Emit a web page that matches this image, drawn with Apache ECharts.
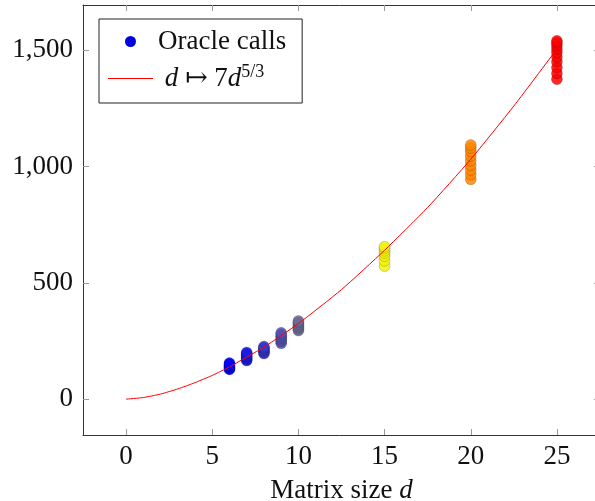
<!DOCTYPE html>
<html>
<head>
<meta charset="utf-8">
<script src="https://cdn.jsdelivr.net/npm/echarts@6/dist/echarts.min.js"></script>
<style>html,body{margin:0;padding:0;background:#fff}#c{width:595px;height:501px}</style>
</head>
<body>
<div id="c"></div>
<script>
const matrixSizes = [6, 7, 8, 9, 10, 15, 20, 25];
const calls6  = [128, 132, 136, 140, 143, 147, 151, 155];
const calls7  = [166, 171, 176, 181, 186, 191, 196, 201];
const calls8  = [196, 201, 206, 211, 216, 221, 226];
const calls9  = [240, 248, 256, 263, 270, 278, 285];
const calls10 = [295, 302, 309, 316, 323, 330, 336];
const calls15 = [572, 595, 615, 628, 638, 648, 655];
const calls20 = [945, 965, 985, 1005, 1025, 1045, 1065, 1080, 1092];
const calls25 = [1375, 1400, 1425, 1450, 1470, 1490, 1505, 1520, 1532, 1540];
const oracleCalls = [calls6, calls7, calls8, calls9, calls10, calls15, calls20, calls25];

// Reference curve d -> 7 d^(5/3)
const curveD      = [0, 1, 2, 3, 4, 5, 6, 8, 10, 12.5, 15, 17.5, 20, 22.5, 25];
const curveValues = [0, 7, 22, 44, 71, 102, 139, 224, 325, 471, 640, 824, 1031, 1260, 1505];

const xTicks = [0, 5, 10, 15, 20, 25];
const yTicks = [0, 500, 1000, 1500];

const scatterData = [];
matrixSizes.forEach((d, i) => oracleCalls[i].forEach(v => scatterData.push([d, v])));
const curveData = curveD.map((d, i) => [d, curveValues[i]]);

const FONT = 'Liberation Serif, DejaVu Serif, serif';
const FS = 27;

const chart = echarts.init(document.getElementById('c'), null, {renderer: 'canvas'});
const tickStyle = {lineStyle: {color: '#9a9a9a', width: 1}};
const axisLine = {show: true, onZero: false, lineStyle: {color: '#333', width: 1}};

chart.setOption({
  animation: false,
  backgroundColor: '#fff',
  grid: {left: 83, top: 5, width: 517, height: 430, containLabel: false, outerBoundsMode: 'none'},
  xAxis: [{
    type: 'value', min: -2.5, max: 27.5, position: 'bottom',
    axisLine: axisLine, splitLine: {show: false},
    axisTick: Object.assign({inside: true, length: 6, customValues: xTicks}, tickStyle),
    axisLabel: {customValues: xTicks, margin: 8, color: '#111', fontFamily: FONT, fontSize: FS},
    name: 'Matrix size {i|d}', nameLocation: 'middle', nameGap: 42,
    nameTextStyle: {color: '#111', fontFamily: FONT, fontSize: FS,
      rich: {i: {fontStyle: 'italic', fontFamily: FONT, fontSize: FS, color: '#111'}}}
  }, {
    type: 'value', min: -2.5, max: 27.5, position: 'top',
    axisLine: axisLine, splitLine: {show: false},
    axisTick: Object.assign({inside: true, length: 6, customValues: xTicks}, tickStyle),
    axisLabel: {show: false}
  }],
  yAxis: [{
    type: 'value', min: -154, max: 1694, position: 'left',
    axisLine: axisLine, splitLine: {show: false},
    axisTick: Object.assign({inside: true, length: 6, customValues: yTicks}, tickStyle),
    axisLabel: {customValues: yTicks, margin: 10, color: '#111', fontFamily: FONT, fontSize: FS,
      formatter: v => v.toLocaleString('en-US')}
  }, {
    type: 'value', min: -154, max: 1694, position: 'right',
    axisLine: axisLine, splitLine: {show: false},
    axisTick: Object.assign({inside: true, length: 6, customValues: yTicks}, tickStyle),
    axisLabel: {show: false}
  }],
  visualMap: {
    show: false, type: 'continuous', dimension: 0, min: 6, max: 25, seriesIndex: 0,
    inRange: {color: ['#0000ff', '#ffff00', '#ff0000']}
  },
  legend: {
    left: 99, top: 19, orient: 'vertical',
    padding: [9, 16, 9, 9], itemGap: 8,
    itemWidth: 45, itemHeight: 11,
    borderColor: '#222', borderWidth: 1, borderRadius: 0,
    backgroundColor: '#fff', symbolKeepAspect: true,
    textStyle: {fontFamily: FONT, fontSize: FS, color: '#111', lineHeight: 27,
      rich: {
        i: {fontStyle: 'italic', fontFamily: FONT, fontSize: FS, color: '#111', lineHeight: 27},
        n: {fontFamily: FONT, fontSize: FS, color: '#111', lineHeight: 27},
        s: {fontFamily: FONT, fontSize: 18, color: '#111', lineHeight: 27, padding: [0, 0, 13, 0]}
      }},
    data: [
      {name: 'Oracle calls', icon: 'circle', itemStyle: {color: '#0000d8', opacity: 1, borderWidth: 0}},
      {name: 'curve', icon: 'path://M0,0 L45,0 L45,1.2 L0,1.2 Z', itemStyle: {color: '#ff0000', borderWidth: 0}}
    ],
    formatter: name => name === 'curve' ? '{i| d}{n| ↦ 7}{i|d}{s|5/3}' : name
  },
  series: [{
    name: 'Oracle calls', type: 'scatter', symbol: 'circle', symbolSize: 11,
    xAxisIndex: 0, yAxisIndex: 0, z: 2,
    itemStyle: {color: '#0000e0', opacity: 0.85, borderColor: 'rgba(0,0,0,0.25)', borderWidth: 0.8},
    data: scatterData
  }, {
    name: 'curve', type: 'line', symbol: 'none', showSymbol: false, smooth: 0.2,
    xAxisIndex: 0, yAxisIndex: 0, z: 5,
    lineStyle: {color: '#ff0000', width: 1},
    itemStyle: {color: '#ff0000'},
    data: curveData
  }]
});
</script>
</body>
</html>
